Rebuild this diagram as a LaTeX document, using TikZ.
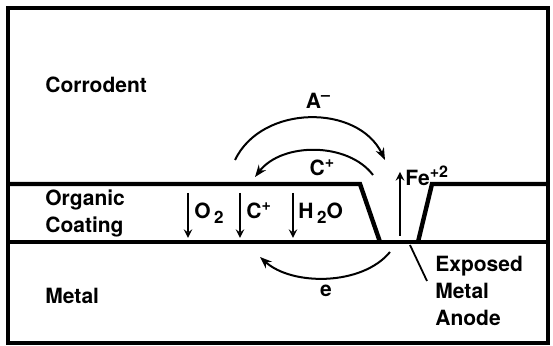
\documentclass[tikz,border=0pt]{standalone}
\usepackage{fontspec}
\setmainfont{TeX Gyre Heros}
\usetikzlibrary{positioning,arrows.meta}

\newcommand{\upidx}[1]{\raisebox{0.7ex}{\fontsize{8}{8}\selectfont #1}}
\newcommand{\dnidx}[1]{\,\raisebox{-0.45ex}{\fontsize{8.5}{8}\selectfont #1}}

\begin{document}
\begin{tikzpicture}[>=stealth, x=0.5pt, y=-0.5pt,
    lbl/.style={font=\bfseries\fontsize{10.5}{13.5}\selectfont, inner sep=0pt},
    layer/.style={line width=2.2pt, line join=miter},
    flow/.style={->, line width=0.9pt},
    loop/.style={-{Stealth[length=6pt,width=4.5pt]}, line width=1pt}]

  \useasboundingbox (0,0) rectangle (553,346);

  %--- outer frame
  \draw[line width=1.6pt] (8,8) rectangle (548,343);

  %--- metal surface and organic coating with the defect
  \draw[layer] (8,242) -- (548,242);
  \draw[layer] (8,184) -- (360,184) -- (380,242);
  \draw[layer] (418,242) -- (432,184) -- (548,184);

  %--- region labels
  \node[lbl, anchor=west] (corrodent) at (45,85) {Corrodent};
  \node[lbl, anchor=west, align=left] (coating) at (45,213) {Organic\\Coating};
  \node[lbl, anchor=west] (metal) at (45,296) {Metal};

  %--- species diffusing through the coating
  \node[lbl, anchor=west] (o2) at (194,213) {O\dnidx{2}};
  \node[lbl, anchor=west] (cion) at (246,211) {C\upidx{+}};
  \node[lbl, anchor=west] (h2o) at (298,213) {H\dnidx{2}O};
  \coordinate (o2top) at (188,193);  \coordinate (o2bot) at (188,238);
  \coordinate (ctop) at (240,193);   \coordinate (cbot) at (240,238);
  \coordinate (htop) at (293,193);   \coordinate (hbot) at (293,238);
  \draw[flow] (o2top) -- (o2bot);
  \draw[flow] (ctop) -- (cbot);
  \draw[flow] (htop) -- (hbot);

  %--- ion currents in the corrodent
  \coordinate (aleft) at (235,160);
  \coordinate (aright) at (385,160);
  \draw[loop] (aleft) .. controls (262,104) and (358,104) .. (aright);
  \node[lbl] (anion) at (318,101) {A\upidx{--}};

  \coordinate (cright) at (373,175);
  \coordinate (cleft) at (255,177);
  \draw[loop] (cright) .. controls (348,142) and (282,142) .. (cleft);
  \node[lbl] (cation) at (322,168) {C\upidx{+}};

  %--- iron dissolving at the anode
  \coordinate (febot) at (400,236);
  \coordinate (fetop) at (400,172);
  \draw[flow] (febot) -- (fetop);
  \node[lbl, anchor=west] (fe) at (405,176) {Fe\upidx{+2}};

  %--- electron flow in the metal
  \coordinate (eright) at (390,252);
  \coordinate (eleft) at (260,257);
  \draw[loop] (eright) .. controls (362,286) and (292,286) .. (eleft);
  \node[lbl] (elec) at (326,291) {e};

  %--- exposed anode
  \node[lbl, anchor=north west, align=left] (anode) at (435,256) {Exposed\\Metal\\Anode};
  \coordinate (pit) at (410,245);
  \coordinate (pitlbl) at (427,281);
  \draw[line width=0.9pt] (pit) -- (pitlbl);

\end{tikzpicture}
\end{document}
